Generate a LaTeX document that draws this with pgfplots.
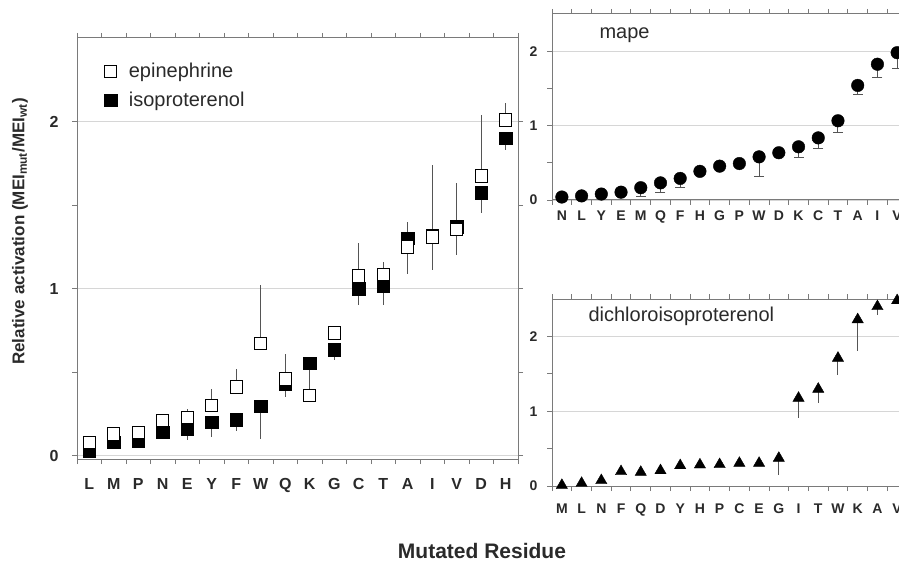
\documentclass[border=0pt]{standalone}
\usepackage{pgfplots}
\usepackage{pgfplotstable}
\pgfplotsset{compat=1.18}
\usepackage{fontspec}
\setmainfont{Liberation Sans}
\definecolor{axgray}{HTML}{7A7A7A}
\definecolor{gridgray}{HTML}{D6D6D6}
\definecolor{txt}{HTML}{2A2A2A}
\definecolor{errgray}{HTML}{555555}

\pgfplotstableread{
x epi epip epim iso isop isom
0  0.08  0     0     0.03  0     0
1  0.13  0     0     0.08  0     0
2  0.14  0     0     0.09  0     0
3  0.21  0.04  0     0.14  0     0
4  0.23  0.05  0     0.16  0     0.065
5  0.30  0.10  0     0.20  0     0.09
6  0.41  0.11  0     0.215 0     0.065
7  0.67  0.35  0     0.295 0     0.195
8  0.46  0.15  0     0.43  0     0.08
9  0.36  0     0     0.555 0     0.165
10 0.735 0     0     0.635 0     0.065
11 1.075 0.195 0     1.00  0     0.10
12 1.085 0.075 0     1.015 0     0.115
13 1.25  0     0.16  1.30  0.10  0
14 1.31  0     0.20  1.32  0.42  0
15 1.355 0     0.155 1.37  0.26  0
16 1.675 0.365 0     1.575 0     0.125
17 2.01  0.10  0     1.90  0     0.07
}\maindata

\pgfplotstableread{
x y ym
0  0.04  0
1  0.055 0
2  0.08  0
3  0.105 0
4  0.165 0.12
5  0.23  0.13
6  0.29  0.125
7  0.385 0
8  0.455 0
9  0.49  0
10 0.58  0.27
11 0.635 0
12 0.715 0.145
13 0.835 0.145
14 1.065 0.155
15 1.54  0.12
16 1.825 0.175
17 1.98  0.21
}\mapedata

\pgfplotstableread{
x y ym
0  0.01  0
1  0.037 0
2  0.074 0
3  0.194 0
4  0.185 0
5  0.207 0
6  0.274 0
7  0.284 0
8  0.288 0
9  0.305 0
10 0.305 0
11 0.372 0.225
12 1.175 0.27
13 1.296 0.18
14 1.71  0.225
15 2.225 0.425
16 2.40  0.12
17 2.48  0
}\dcidata

\begin{document}
\begin{tikzpicture}
\pgfplotsset{
  panel/.style={
    scale only axis, anchor=south west,
    axis line style={axgray, line width=1pt},
    tick style={axgray, line width=0.8pt},
    tick align=outside,
    ymajorgrids, grid style={gridgray, line width=0.8pt},
    xmin=-0.5, xmax=17.5,
    xtick={0,...,17},
    major x tick style={draw=none},
    minor xtick={-0.5,0.5,...,17.5},
    ytick={0,1,2}, yticklabels={0,1,2},
    minor ytick={0.5,1.5},
    major tick length=5pt, minor tick length=5pt,
    clip=false,
  }
}
% main panel
\begin{axis}[panel, at={(77pt,104pt)}, width=441pt, height=421pt,
  ymin=-0.02, ymax=2.5,
  xticklabels={L,M,P,N,E,Y,F,W,Q,K,G,C,T,A,I,V,D,H},
  ticklabel style={font=\fontsize{16}{16}\selectfont\bfseries, text=txt},
  xticklabel style={yshift=-11pt},
  yticklabel style={xshift=-10pt},
  reverse legend,
  legend cell align=left,
  legend style={draw=none, fill=none, at={(0.055,0.95)}, anchor=north west,
    font=\fontsize{20}{24}\selectfont, text=txt, row sep=9pt, column sep=10pt},
]
\addplot[only marks, mark=square*, mark size=6.2pt, mark options={fill=black, draw=black},
  error bars/.cd, y dir=both, y explicit, error mark=none,
  error bar style={errgray, line width=1pt}]
  table[x=x, y=iso, y error plus=isop, y error minus=isom] {\maindata};
\addlegendentry{isoproterenol}
\addplot[only marks, mark=square*, mark size=6.2pt, mark options={fill=white, draw=black, line width=1pt},
  error bars/.cd, y dir=both, y explicit, error mark=none,
  error bar style={errgray, line width=1pt}]
  table[x=x, y=epi, y error plus=epip, y error minus=epim] {\maindata};
\addlegendentry{epinephrine}
\end{axis}

% mape panel
\begin{axis}[panel, at={(552pt,363pt)}, width=355pt, height=186pt,
  ymin=0, ymax=2.5,
  xticklabels={N,L,Y,E,M,Q,F,H,G,P,W,D,K,C,T,A,I,V},
  ticklabel style={font=\fontsize{14}{14}\selectfont\bfseries, text=txt},
  xticklabel style={yshift=-2pt},
  yticklabel style={xshift=-6pt},
]
\addplot[only marks, mark=*, mark size=6.3pt, mark options={fill=black, draw=black},
  error bars/.cd, y dir=minus, y explicit, error mark=-,
  error mark options={rotate=90, mark size=5pt, line width=1pt, errgray},
  error bar style={errgray, line width=1pt}]
  table[x=x, y=y, y error minus=ym] {\mapedata};
\end{axis}

% dichloroisoproterenol panel
\begin{axis}[panel, at={(552pt,77pt)}, width=355pt, height=187pt,
  ymin=0, ymax=2.5,
  xticklabels={M,L,N,F,Q,D,Y,H,P,C,E,G,I,T,W,K,A,V},
  ticklabel style={font=\fontsize{14}{14}\selectfont\bfseries, text=txt},
  xticklabel style={yshift=-9pt},
  yticklabel style={xshift=-6pt},
]
\addplot[only marks, mark=triangle*, mark size=6.5pt, mark options={fill=black, draw=black},
  error bars/.cd, y dir=minus, y explicit, error mark=none,
  error bar style={errgray, line width=1pt}]
  table[x=x, y=y, y error minus=ym] {\dcidata};
\end{axis}

\node[anchor=west, text=txt, font=\fontsize{20}{24}\selectfont] at (596pt,528pt) {mape};
\node[anchor=west, text=txt, font=\fontsize{20}{24}\selectfont] at (585pt,247pt) {dichloroisoproterenol};
\node[rotate=90, text=txt, font=\fontsize{17}{20}\selectfont\bfseries] at (20pt,331.5pt)
  {Relative activation (MEI\textsubscript{mut}/MEI\textsubscript{wt})};
\node[text=txt, font=\fontsize{21}{24}\selectfont\bfseries] at (482pt,12pt) {Mutated Residue};

\pgfresetboundingbox
\useasboundingbox (0pt,0pt) rectangle (899pt,563pt);
\end{tikzpicture}
\end{document}
